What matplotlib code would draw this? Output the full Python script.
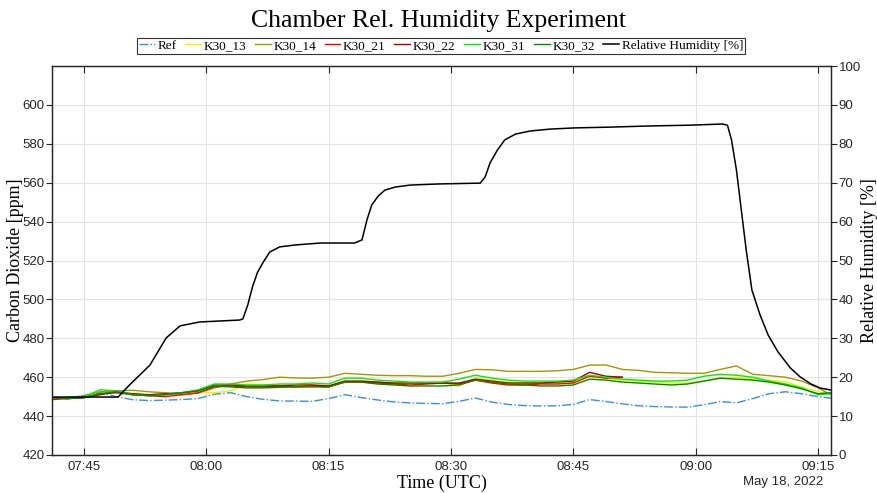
"""Chamber humidity experiment: CO2 sensors vs. relative humidity."""
import matplotlib

matplotlib.use("Agg")
import matplotlib.pyplot as plt
import matplotlib.dates as mdates
import pandas as pd

START = pd.Timestamp("2022-05-18 07:40:00")

# minutes after 07:40 (UTC)
co2_minutes = [1.1, 3, 5, 7, 9, 11, 13, 15, 17, 19, 21, 23, 25, 27, 29, 31, 33, 35, 37, 39,
               41, 43, 45, 47, 49, 51, 53, 55, 57, 59, 61, 63, 65, 67, 69, 71, 73, 75, 77, 79,
               81, 83, 85, 87, 89, 91, 93, 95, 96.6]

ref_ppm = [449.5, 449.5, 450.5, 452.0, 450.0, 448.4, 448.0, 448.2, 448.5, 449.0,
           451.3, 452.0, 450.0, 448.6, 447.8, 447.7, 447.6, 449.0, 451.0, 449.5,
           448.3, 447.3, 446.8, 446.5, 446.4, 447.6, 449.3, 447.2, 446.0, 445.4,
           445.2, 445.3, 446.0, 448.5, 447.5, 446.3, 445.3, 444.9, 444.7, 444.6,
           445.8, 447.5, 446.8, 449.0, 451.5, 452.5, 451.5, 450.0, 449.2]

k30_13_ppm = [449.5, 449.0, 449.5, 451.5, 452.0, 451.5, 451.0, 451.5, 452.0, 452.5,
              452.0, 453.0, 456.5, 456.0, 455.8, 456.0, 456.0, 455.5, 458.0, 458.0,
              457.5, 457.0, 457.0, 457.0, 457.5, 455.5, 459.5, 458.5, 457.5, 457.0,
              457.0, 457.0, 457.5, 460.5, 459.5, 458.5, 458.0, 457.5, 457.0, 457.0,
              458.0, 459.5, 460.0, 459.0, 458.5, 457.5, 455.0, 452.5, 451.5]

k30_14_ppm = [449.5, 449.0, 450.5, 452.5, 453.0, 453.3, 452.5, 452.0, 451.0, 451.8,
              454.5, 456.5, 458.0, 458.8, 460.0, 459.6, 459.5, 460.0, 462.0, 461.5,
              461.0, 460.8, 460.8, 460.5, 460.5, 462.0, 464.0, 463.8, 463.0, 463.0,
              463.0, 463.3, 464.0, 466.2, 466.3, 464.0, 463.5, 462.5, 462.3, 462.0,
              462.0, 464.0, 465.8, 461.5, 460.8, 460.0, 458.0, 454.5, 451.0]

# K30_21 and K30_22 stop logging around 08:51
k30_21_ppm = [448.5, 449.0, 449.5, 451.5, 452.0, 451.0, 450.5, 450.0, 451.0, 452.0,
              455.0, 455.5, 455.0, 455.0, 455.5, 455.0, 455.5, 455.0, 457.5, 457.5,
              457.0, 456.5, 456.0, 456.5, 457.0, 456.5, 458.5, 457.0, 456.0, 456.0,
              456.5, 456.5, 457.0, 460.5, 459.5, 460.0]

k30_22_ppm = [449.5, 449.0, 449.5, 451.0, 452.5, 451.5, 451.0, 451.5, 452.0, 453.0,
              456.0, 456.0, 455.5, 455.5, 455.5, 456.0, 456.0, 455.5, 458.0, 458.0,
              457.5, 457.0, 457.0, 457.0, 457.0, 457.0, 459.0, 458.0, 457.0, 457.0,
              457.0, 457.5, 458.0, 462.5, 460.5, 460.0]

k30_31_ppm = [449.5, 449.5, 450.0, 453.5, 453.0, 451.0, 450.5, 451.0, 452.0, 453.5,
              456.5, 456.5, 456.0, 456.0, 456.5, 456.5, 457.0, 456.5, 459.5, 459.5,
              458.5, 458.0, 457.5, 457.5, 457.5, 459.0, 461.0, 459.5, 458.5, 458.0,
              458.0, 458.0, 458.5, 461.0, 460.0, 459.0, 458.5, 458.0, 458.0, 458.5,
              460.5, 461.5, 461.0, 460.0, 458.0, 456.5, 454.5, 451.0, 451.5]

k30_32_ppm = [449.5, 449.0, 449.5, 451.5, 452.5, 451.0, 450.5, 451.0, 452.0, 453.0,
              455.5, 455.0, 454.5, 454.5, 454.8, 455.0, 455.0, 455.0, 457.5, 457.5,
              456.5, 456.0, 455.5, 455.5, 455.5, 456.0, 458.5, 457.5, 456.5, 456.0,
              455.5, 455.5, 456.0, 459.0, 458.5, 457.5, 457.0, 456.5, 456.0, 456.5,
              458.0, 459.5, 459.0, 458.5, 457.5, 456.0, 454.0, 451.5, 452.0]

rh_minutes = [1.1, 9.2, 10.6, 13.1, 15.1, 16.8, 19.2, 24.1, 24.5, 25.1, 25.7, 26.3, 27.0,
              27.8, 29.0, 30.9, 34.0, 38.2, 39.1, 39.7, 40.3, 41.1, 41.9, 43.2, 45.0,
              48.7, 53.6, 54.2, 54.8, 55.7, 56.6, 57.9, 59.7, 62.2, 65.2, 69.5, 74.4,
              79.3, 83.3, 83.9, 84.4, 85.0, 85.6, 86.2, 86.9, 87.9, 88.9, 90.1, 91.6,
              92.8, 94.1, 95.3, 96.6]
rh_pct = [14.9, 14.9, 18.0, 23.1, 30.1, 33.2, 34.2, 34.7, 35.0, 38.6, 43.4, 47.0, 49.6,
          52.2, 53.5, 54.0, 54.5, 54.5, 55.3, 60.4, 64.3, 66.6, 68.1, 68.9, 69.4,
          69.7, 69.9, 71.5, 75.1, 78.4, 81.0, 82.5, 83.3, 83.8, 84.1, 84.3, 84.6,
          84.8, 85.1, 84.8, 81.0, 73.3, 63.0, 52.7, 42.4, 36.0, 30.8, 26.5, 22.4,
          20.1, 18.3, 17.2, 16.7]

X_LIM = (1.1, 96.6)
SERIF = "Liberation Serif"
SANS = "Liberation Sans"
INK = "#262626"


def to_time(minutes):
    return [START + pd.Timedelta(minutes=m) for m in minutes]


fig = plt.figure(figsize=(8.77, 4.93), dpi=100)
ax = fig.add_axes([0.0593, 0.0771, 0.8883, 0.7889])
ax2 = ax.twinx()

co2_series = [
    ("Ref", ref_ppm, "#3a8ee6", "-."),
    ("K30_13", k30_13_ppm, "#f2f200", "-"),
    ("K30_14", k30_14_ppm, "#a09a00", "-"),
    ("K30_21", k30_21_ppm, "#ff0000", "-"),
    ("K30_22", k30_22_ppm, "#a00000", "-"),
    ("K30_31", k30_31_ppm, "#00ee00", "-"),
    ("K30_32", k30_32_ppm, "#008a00", "-"),
]

handles = []
for name, vals, color, ls in co2_series:
    (h,) = ax.plot(to_time(co2_minutes[:len(vals)]), vals, color=color, linestyle=ls,
                   linewidth=1.0, label=name)
    handles.append(h)

(h_rh,) = ax2.plot(to_time(rh_minutes), rh_pct, color="black", linewidth=1.1,
                   label="Relative Humidity [%]")
handles.append(h_rh)

ax.set_xlim(to_time(X_LIM))
ax.set_ylim(420, 620)
ax.set_yticks(range(420, 601, 20))
ax2.set_ylim(0, 100)
ax2.set_yticks(range(0, 101, 10))

ax.xaxis.set_major_locator(mdates.MinuteLocator(byminute=[0, 15, 30, 45]))
ax.xaxis.set_major_formatter(mdates.DateFormatter("%H:%M"))

ax.grid(True, color="#e3e3e3", linewidth=0.8)
ax.set_axisbelow(True)

for a in (ax, ax2):
    for sp in a.spines.values():
        sp.set_color(INK)
        sp.set_linewidth(0.9)
ax.tick_params(axis="x", direction="in", top=True, length=5, colors=INK,
               labelsize=9.5, pad=4)
ax.tick_params(axis="y", direction="out", length=4, colors=INK, labelsize=9.5, pad=1.5)
ax2.tick_params(axis="y", direction="out", length=4, colors=INK, labelsize=9.5, pad=1.5)
for lbl in ax.get_xticklabels() + ax.get_yticklabels() + ax2.get_yticklabels():
    lbl.set_fontfamily(SANS)

ax.set_ylabel("Carbon Dioxide [ppm]", fontfamily=SERIF, fontsize=13)
ax.yaxis.set_label_coords(-0.036, 0.5)
ax2.set_ylabel("Relative Humidity [%]", fontfamily=SERIF, fontsize=13, rotation=90)
ax2.yaxis.set_label_coords(1.038, 0.5)
ax.set_xlabel("Time (UTC)", fontfamily=SERIF, fontsize=13)
ax.xaxis.set_label_coords(0.5, -0.05)

fig.text(0.5, 0.958, "Chamber Rel. Humidity Experiment", ha="center", va="center",
         fontfamily=SERIF, fontsize=18.5)
fig.text(0.939, 0.022, "May 18, 2022", ha="right", va="center", fontfamily=SANS,
         fontsize=9.5, color=INK)

leg = fig.legend(handles=handles, loc="center", bbox_to_anchor=(0.503, 0.907), ncol=8,
                 frameon=True, fancybox=False, edgecolor="black", borderpad=0.15,
                 handlelength=1.2, handletextpad=0.2, columnspacing=0.65,
                 prop={"family": SERIF, "size": 9.5})
leg.get_frame().set_linewidth(0.8)

fig.savefig("out.png", dpi=100)
